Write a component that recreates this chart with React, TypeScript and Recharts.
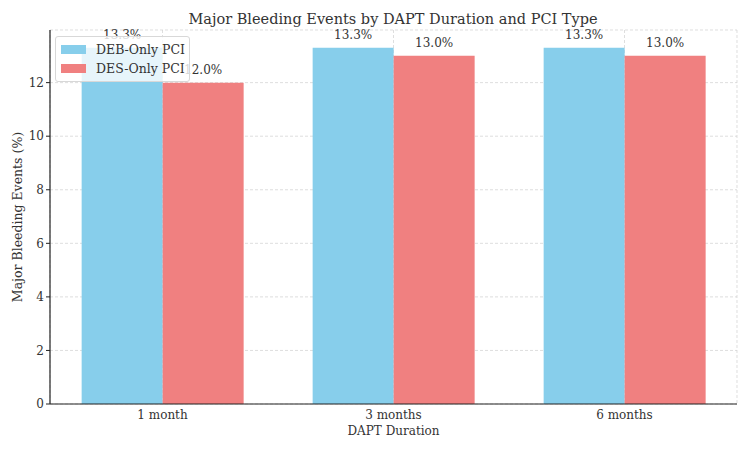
import React from 'react';
import { BarChart, Bar, XAxis, YAxis, CartesianGrid, Legend, LabelList } from 'recharts';

const durations = ['1 month', '3 months', '6 months'];
const debOnly = [13.3, 13.3, 13.3];
const desOnly = [12.0, 13.0, 13.0];
const yTicks = [0, 2, 4, 6, 8, 10, 12];

const data = durations.map((d, i) => ({ duration: d, deb: debOnly[i], des: desOnly[i] }));

const FONT = '"DejaVu Serif", serif';
const TEXT = '#333';

const LegendBox = (props: any) => {
  const payload = props.payload || [];
  return (
    <div
      style={{
        background: 'rgba(255,255,255,0.8)',
        border: '1px solid #d8d8d8',
        borderRadius: 3,
        padding: '3px 5px 3px 5px',
        fontFamily: FONT,
        fontSize: 12.5,
        color: TEXT,
        width: 135,
        boxSizing: 'border-box',
        whiteSpace: 'nowrap',
      }}
    >
      {payload.map((p: any) => (
        <div key={p.value} style={{ display: 'flex', alignItems: 'center', height: 19 }}>
          <span style={{ display: 'inline-block', width: 25, height: 9, background: p.color, marginRight: 10, flexShrink: 0 }} />
          <span>{p.value}</span>
        </div>
      ))}
    </div>
  );
};

const fmt = (v: any) => `${Number(v).toFixed(1)}%`;

export default function App() {
  return (
    <div style={{ position: 'absolute', left: 0, top: 0, width: 750, height: 450, background: '#fff' }}>
      <div
        style={{
          position: 'absolute',
          top: 9,
          left: 0,
          width: 786,
          textAlign: 'center',
          fontFamily: FONT,
          fontSize: 14.5,
          color: TEXT,
          lineHeight: '20px',
        }}
      >
        Major Bleeding Events by DAPT Duration and PCI Type
      </div>
      <BarChart
        width={750}
        height={450}
        data={data}
        margin={{ top: 30, right: 13, left: 8, bottom: 0 }}
        barCategoryGap="15%"
        barGap={0}
      >
        <CartesianGrid stroke="#d0d0d0" strokeDasharray="3 2" strokeWidth={0.7} />
        <XAxis
          dataKey="duration"
          height={46}
          padding={{ left: -3, right: -3 }}
          tickLine={false}
          tickMargin={0}
          axisLine={{ stroke: '#222', strokeWidth: 1.2 }}
          tick={{ fill: TEXT, fontFamily: FONT, fontSize: 12 }}
          label={{ value: 'DAPT Duration', position: 'insideBottom', offset: 15, fill: TEXT, fontFamily: FONT, fontSize: 12 }}
        />
        <YAxis
          width={42}
          domain={[0, 13.965]}
          ticks={yTicks}
          tickSize={4}
          tickMargin={2}
          axisLine={{ stroke: '#222', strokeWidth: 1.2 }}
          tickLine={{ stroke: '#222' }}
          tick={{ fill: TEXT, fontFamily: FONT, fontSize: 12 }}
          label={{
            value: 'Major Bleeding Events (%)',
            angle: -90,
            position: 'insideLeft',
            offset: 10,
            style: { textAnchor: 'middle' },
            fill: TEXT,
            fontFamily: FONT,
            fontSize: 12.5,
          }}
        />
        <Legend
          layout="vertical"
          align="center"
          verticalAlign="middle"
          wrapperStyle={{ top: 36, left: 55, width: 135 }}
          content={<LegendBox />}
        />
        <Bar dataKey="deb" name="DEB-Only PCI" fill="#87CEEB" isAnimationActive={false}>
          <LabelList dataKey="deb" position="top" offset={9} formatter={fmt} fill={TEXT} fontFamily={FONT} fontSize={12} />
        </Bar>
        <Bar dataKey="des" name="DES-Only PCI" fill="#F08080" isAnimationActive={false}>
          <LabelList dataKey="des" position="top" offset={9} formatter={fmt} fill={TEXT} fontFamily={FONT} fontSize={12} />
        </Bar>
      </BarChart>
    </div>
  );
}
